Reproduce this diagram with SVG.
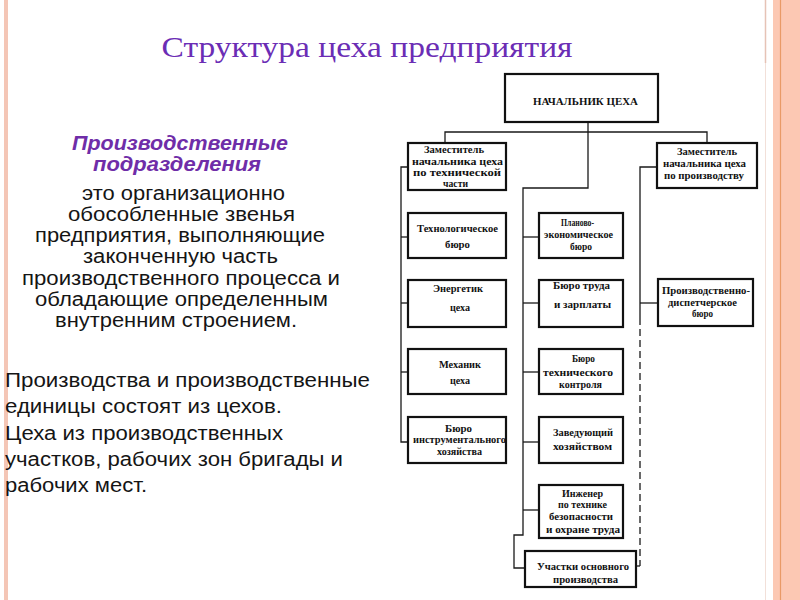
<svg xmlns="http://www.w3.org/2000/svg" width="800" height="600" viewBox="0 0 800 600">
<style>
.box{fill:#fff;stroke:#111;stroke-width:2.2}
.lbl{font-family:"Liberation Serif","Times New Roman",serif;font-weight:bold;font-size:10px;fill:#111;text-anchor:middle}
.con{fill:none;stroke:#1a1a1a;stroke-width:1.3}
.dash{stroke-dasharray:7,4}
.body{font-family:"Liberation Sans",Arial,sans-serif;font-size:20px;fill:#151515}
.ctr{text-anchor:middle}
</style>
<rect x="0" y="0" width="800" height="600" fill="#fff"/>
<g id="frame">
<rect x="4" y="0" width="4" height="600" fill="#f4c6b6"/>
<rect x="773" y="0" width="27" height="600" fill="#fcc8b3"/>
<line x1="780.5" y1="0" x2="780.5" y2="600" stroke="#e99a66" stroke-width="1.2"/>
<line x1="765.5" y1="0" x2="765.5" y2="63" stroke="#e6c3b6" stroke-width="1.5"/>
<line x1="765.5" y1="63" x2="765.5" y2="600" stroke="#f2e0d9" stroke-width="1"/>
</g>
<text id="title" x="367" y="57" font-family="Liberation Serif,'Times New Roman',serif" font-size="30" fill="#6b2db5" text-anchor="middle" textLength="411" lengthAdjust="spacingAndGlyphs">Структура цеха предприятия</text>
<g id="definition">
<text class="ctr" x="180" y="150" font-family="Liberation Sans,Arial,sans-serif" font-size="20" font-weight="bold" font-style="italic" fill="#6f2da8" textLength="216" lengthAdjust="spacingAndGlyphs">Производственные</text>
<text class="ctr" x="177" y="171" font-family="Liberation Sans,Arial,sans-serif" font-size="20" font-weight="bold" font-style="italic" fill="#6f2da8" textLength="168" lengthAdjust="spacingAndGlyphs">подразделения</text>
<text class="body ctr" x="183.5" y="200" textLength="203" lengthAdjust="spacingAndGlyphs">это организационно</text>
<text class="body ctr" x="181.5" y="221" textLength="227" lengthAdjust="spacingAndGlyphs">обособленные звенья</text>
<text class="body ctr" x="180" y="242" textLength="290" lengthAdjust="spacingAndGlyphs">предприятия, выполняющие</text>
<text class="body ctr" x="180.5" y="263" textLength="195" lengthAdjust="spacingAndGlyphs">законченную часть</text>
<text class="body ctr" x="181" y="285" textLength="318" lengthAdjust="spacingAndGlyphs">производственного процесса и</text>
<text class="body ctr" x="181.5" y="306" textLength="293" lengthAdjust="spacingAndGlyphs">обладающие определенным</text>
<text class="body ctr" x="176" y="327" textLength="242" lengthAdjust="spacingAndGlyphs">внутренним строением.</text>
</g>
<g id="note">
<text class="body" x="5" y="387" textLength="365" lengthAdjust="spacingAndGlyphs">Производства и производственные</text>
<text class="body" x="5" y="413" textLength="277" lengthAdjust="spacingAndGlyphs">единицы состоят из цехов.</text>
<text class="body" x="5" y="440" textLength="278" lengthAdjust="spacingAndGlyphs">Цеха из производственных</text>
<text class="body" x="5" y="466" textLength="338" lengthAdjust="spacingAndGlyphs">участков, рабочих зон бригады и</text>
<text class="body" x="5" y="492" textLength="142" lengthAdjust="spacingAndGlyphs">рабочих мест.</text>
</g>
<g id="connectors">
<polyline class="con" points="588,122 588,188 523,188 523,535 514,535 514,568 525,568"/>
<polyline class="con" points="445,143 445,132 707,132 707,143"/>
<polyline class="con" points="408,167 401,167 401,442 408,442"/>
<line class="con" x1="401" y1="237" x2="408" y2="237"/>
<line class="con" x1="401" y1="303" x2="408" y2="303"/>
<line class="con" x1="401" y1="372" x2="408" y2="372"/>
<line class="con" x1="523" y1="237" x2="539" y2="237"/>
<line class="con" x1="523" y1="303" x2="539" y2="303"/>
<line class="con" x1="523" y1="372" x2="539" y2="372"/>
<line class="con" x1="523" y1="442" x2="539" y2="442"/>
<line class="con" x1="523" y1="510" x2="539" y2="510"/>
<polyline class="con" points="657,167 640,167 640,318"/>
<line class="con" x1="640" y1="303" x2="658" y2="303"/>
<polyline class="con dash" points="640,318 640,566"/>
<line class="con" x1="640" y1="566" x2="636" y2="566"/>
</g>
<g id="chief">
<rect class="box" x="505" y="74" width="153" height="48"/>
<text class="lbl" x="585.5" y="105" textLength="105" lengthAdjust="spacingAndGlyphs">НАЧАЛЬНИК ЦЕХА</text>
</g>
<g id="deputy-tech">
<rect class="box" x="408" y="143" width="98" height="47"/>
<text class="lbl" x="454" y="153" textLength="60" lengthAdjust="spacingAndGlyphs">Заместитель</text>
<text class="lbl" x="457.5" y="165" textLength="91" lengthAdjust="spacingAndGlyphs">начальника  цеха</text>
<text class="lbl" x="457" y="176" textLength="88" lengthAdjust="spacingAndGlyphs">по  технической</text>
<text class="lbl" x="455.5" y="187" textLength="25" lengthAdjust="spacingAndGlyphs">части</text>
</g>
<g id="deputy-prod">
<rect class="box" x="657" y="143" width="100" height="45"/>
<text class="lbl" x="707" y="155" textLength="60" lengthAdjust="spacingAndGlyphs">Заместитель</text>
<text class="lbl" x="704.5" y="167" textLength="83" lengthAdjust="spacingAndGlyphs">начальника  цеха</text>
<text class="lbl" x="704" y="179" textLength="80" lengthAdjust="spacingAndGlyphs">по  производству</text>
</g>
<g id="tech-bureau">
<rect class="box" x="408" y="213" width="98" height="45"/>
<text class="lbl" x="457.5" y="232" textLength="81" lengthAdjust="spacingAndGlyphs">Технологическое</text>
<text class="lbl" x="457.5" y="248" textLength="25" lengthAdjust="spacingAndGlyphs">бюро</text>
</g>
<g id="energetic">
<rect class="box" x="408" y="280" width="98" height="47"/>
<text class="lbl" x="458" y="292" textLength="50" lengthAdjust="spacingAndGlyphs">Энергетик</text>
<text class="lbl" x="460" y="311" textLength="20" lengthAdjust="spacingAndGlyphs">цеха</text>
</g>
<g id="mechanic">
<rect class="box" x="408" y="349" width="98" height="45"/>
<text class="lbl" x="460" y="368" textLength="42" lengthAdjust="spacingAndGlyphs">Механик</text>
<text class="lbl" x="460" y="384" textLength="20" lengthAdjust="spacingAndGlyphs">цеха</text>
</g>
<g id="tool-bureau">
<rect class="box" x="408" y="417" width="98" height="46"/>
<text class="lbl" x="458.5" y="432" textLength="27" lengthAdjust="spacingAndGlyphs">Бюро</text>
<text class="lbl" x="459.5" y="443" textLength="93" lengthAdjust="spacingAndGlyphs">инструментального</text>
<text class="lbl" x="459.5" y="455" textLength="45" lengthAdjust="spacingAndGlyphs">хозяйства</text>
</g>
<g id="plan-bureau">
<rect class="box" x="539" y="213" width="84" height="45"/>
<text class="lbl" x="577.5" y="226" textLength="33" lengthAdjust="spacingAndGlyphs">Планово-</text>
<text class="lbl" x="578.5" y="238" textLength="69" lengthAdjust="spacingAndGlyphs">экономическое</text>
<text class="lbl" x="581" y="250" textLength="22" lengthAdjust="spacingAndGlyphs">бюро</text>
</g>
<g id="labor-bureau">
<rect class="box" x="539" y="280" width="84" height="47"/>
<text class="lbl" x="581.5" y="289" textLength="57" lengthAdjust="spacingAndGlyphs">Бюро  труда</text>
<text class="lbl" x="582.5" y="308" textLength="57" lengthAdjust="spacingAndGlyphs">и  зарплаты</text>
</g>
<g id="qc-bureau">
<rect class="box" x="539" y="349" width="84" height="45"/>
<text class="lbl" x="583.5" y="362" textLength="23" lengthAdjust="spacingAndGlyphs">Бюро</text>
<text class="lbl" x="578" y="376" textLength="70" lengthAdjust="spacingAndGlyphs">технического</text>
<text class="lbl" x="580.5" y="388" textLength="43" lengthAdjust="spacingAndGlyphs">контроля</text>
</g>
<g id="household">
<rect class="box" x="539" y="417" width="84" height="46"/>
<text class="lbl" x="583" y="436" textLength="60" lengthAdjust="spacingAndGlyphs">Заведующий</text>
<text class="lbl" x="582.5" y="450" textLength="59" lengthAdjust="spacingAndGlyphs">хозяйством</text>
</g>
<g id="safety">
<rect class="box" x="539" y="485" width="84" height="53"/>
<text class="lbl" x="582.5" y="497" textLength="41" lengthAdjust="spacingAndGlyphs">Инженер</text>
<text class="lbl" x="582.5" y="508" textLength="49" lengthAdjust="spacingAndGlyphs">по технике</text>
<text class="lbl" x="581" y="520" textLength="64" lengthAdjust="spacingAndGlyphs">безопасности</text>
<text class="lbl" x="583" y="533" textLength="74" lengthAdjust="spacingAndGlyphs">и охране труда</text>
</g>
<g id="main-sections">
<rect class="box" x="525" y="551" width="111" height="36"/>
<text class="lbl" x="583" y="570" textLength="92" lengthAdjust="spacingAndGlyphs">Участки  основного</text>
<text class="lbl" x="585.5" y="583" textLength="65" lengthAdjust="spacingAndGlyphs">производства</text>
</g>
<g id="dispatch-bureau">
<rect class="box" x="658" y="279" width="95" height="47"/>
<text class="lbl" x="706" y="294" textLength="88" lengthAdjust="spacingAndGlyphs">Производственно-</text>
<text class="lbl" x="702.5" y="306" textLength="69" lengthAdjust="spacingAndGlyphs">диспетчерское</text>
<text class="lbl" x="702.5" y="317" textLength="21" lengthAdjust="spacingAndGlyphs">бюро</text>
</g>
</svg>
